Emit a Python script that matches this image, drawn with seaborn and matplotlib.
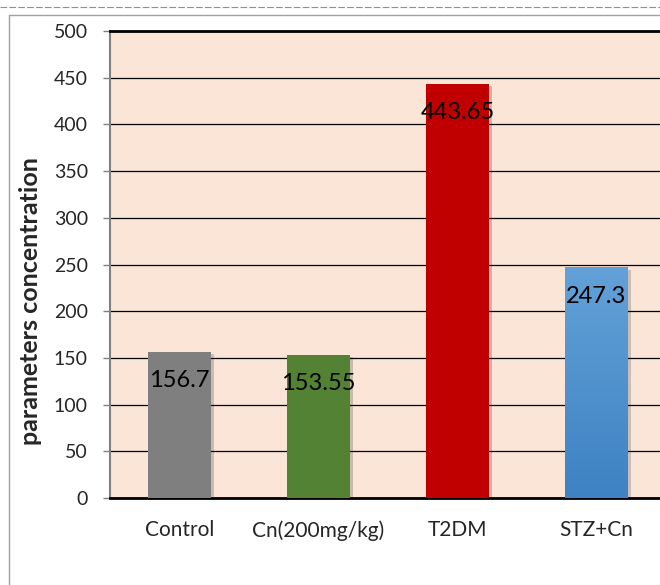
import numpy as np
import matplotlib.pyplot as plt
import matplotlib.patheffects as pe
from matplotlib.lines import Line2D
from matplotlib.colors import LinearSegmentedColormap
import seaborn as sns
import pandas as pd

groups = ['Control', 'Cn(200mg/kg)', 'T2DM', 'STZ+Cn']
values = [156.7, 153.55, 443.65, 247.3]
value_labels = ['156.7', '153.55', '443.65', '247.3']
bar_colors = ['#7f7f7f', '#548235', '#c00000', '#5b9bd5']
yticks = [0, 50, 100, 150, 200, 250, 300, 350, 400, 450, 500]

sns.set_style('white')
plt.rcParams['font.family'] = ['Lato', 'DejaVu Sans']

df = pd.DataFrame({'group': groups, 'value': values})

fig = plt.figure(figsize=(6.6, 5.85), dpi=100)
ax = fig.add_axes([110 / 660, 1 - 498 / 585, 556 / 660, 467 / 585])
ax.set_facecolor('#fbe5d6')

sns.barplot(data=df, x='group', y='value', hue='group', palette=bar_colors,
            width=0.45, legend=False, ax=ax, saturation=1, linewidth=0, zorder=3)

for p in ax.patches:
    p.set_path_effects([pe.SimplePatchShadow(offset=(2.5, -2), alpha=0.22), pe.Normal()])

# gradient on the blue bar
blue = ax.patches[3]
x0, w, h = blue.get_x(), blue.get_width(), blue.get_height()
grad = np.linspace(0, 1, 256).reshape(-1, 1)
cm = LinearSegmentedColormap.from_list('b', ['#3e82c3', '#63a1d8'])
im = ax.imshow(grad, extent=[x0, x0 + w, 0, h], origin='lower', cmap=cm,
               aspect='auto', zorder=4)
im.set_clip_path(blue)

# value labels just inside the top of each bar
for i, (v, t) in enumerate(zip(values, value_labels)):
    ax.annotate(t, (i, v), xytext=(0, -29), textcoords='offset pixels',
                ha='center', va='center', fontsize=17, color='black', zorder=5)

ax.set_xlim(-0.5, 3.5)
ax.set_ylim(0, 500)
ax.set_yticks(yticks)
ax.yaxis.grid(True, color='black', linewidth=0.9, zorder=0)
ax.set_axisbelow(True)
ax.tick_params(axis='y', length=5, width=1, color='#808080', labelsize=14, pad=11, left=True)
ax.tick_params(axis='x', length=0, labelsize=15, pad=16)
ax.set_xlabel('')
ax.set_ylabel('')
fig.text(31 / 660, 1 - 301 / 585, 'parameters concentration', rotation=90,
         ha='center', va='center', fontsize=18, fontweight='bold')

for s in ['top', 'bottom']:
    ax.spines[s].set_color('black')
    ax.spines[s].set_linewidth(2)
ax.spines['left'].set_color('#808080')
ax.spines['left'].set_linewidth(1.5)
ax.spines['right'].set_visible(False)

# outer chart frame
fig.add_artist(Line2D([9 / 660, 9 / 660], [0, 1 - 15 / 585], color='#a0a0a0', lw=1))
fig.add_artist(Line2D([9 / 660, 1], [1 - 15 / 585, 1 - 15 / 585], color='#a0a0a0', lw=1))
fig.add_artist(Line2D([0, 1], [1 - 7 / 585, 1 - 7 / 585], color='#909090', lw=0.8, ls=(0, (6, 2))))

fig.savefig('out.png', dpi=100)
